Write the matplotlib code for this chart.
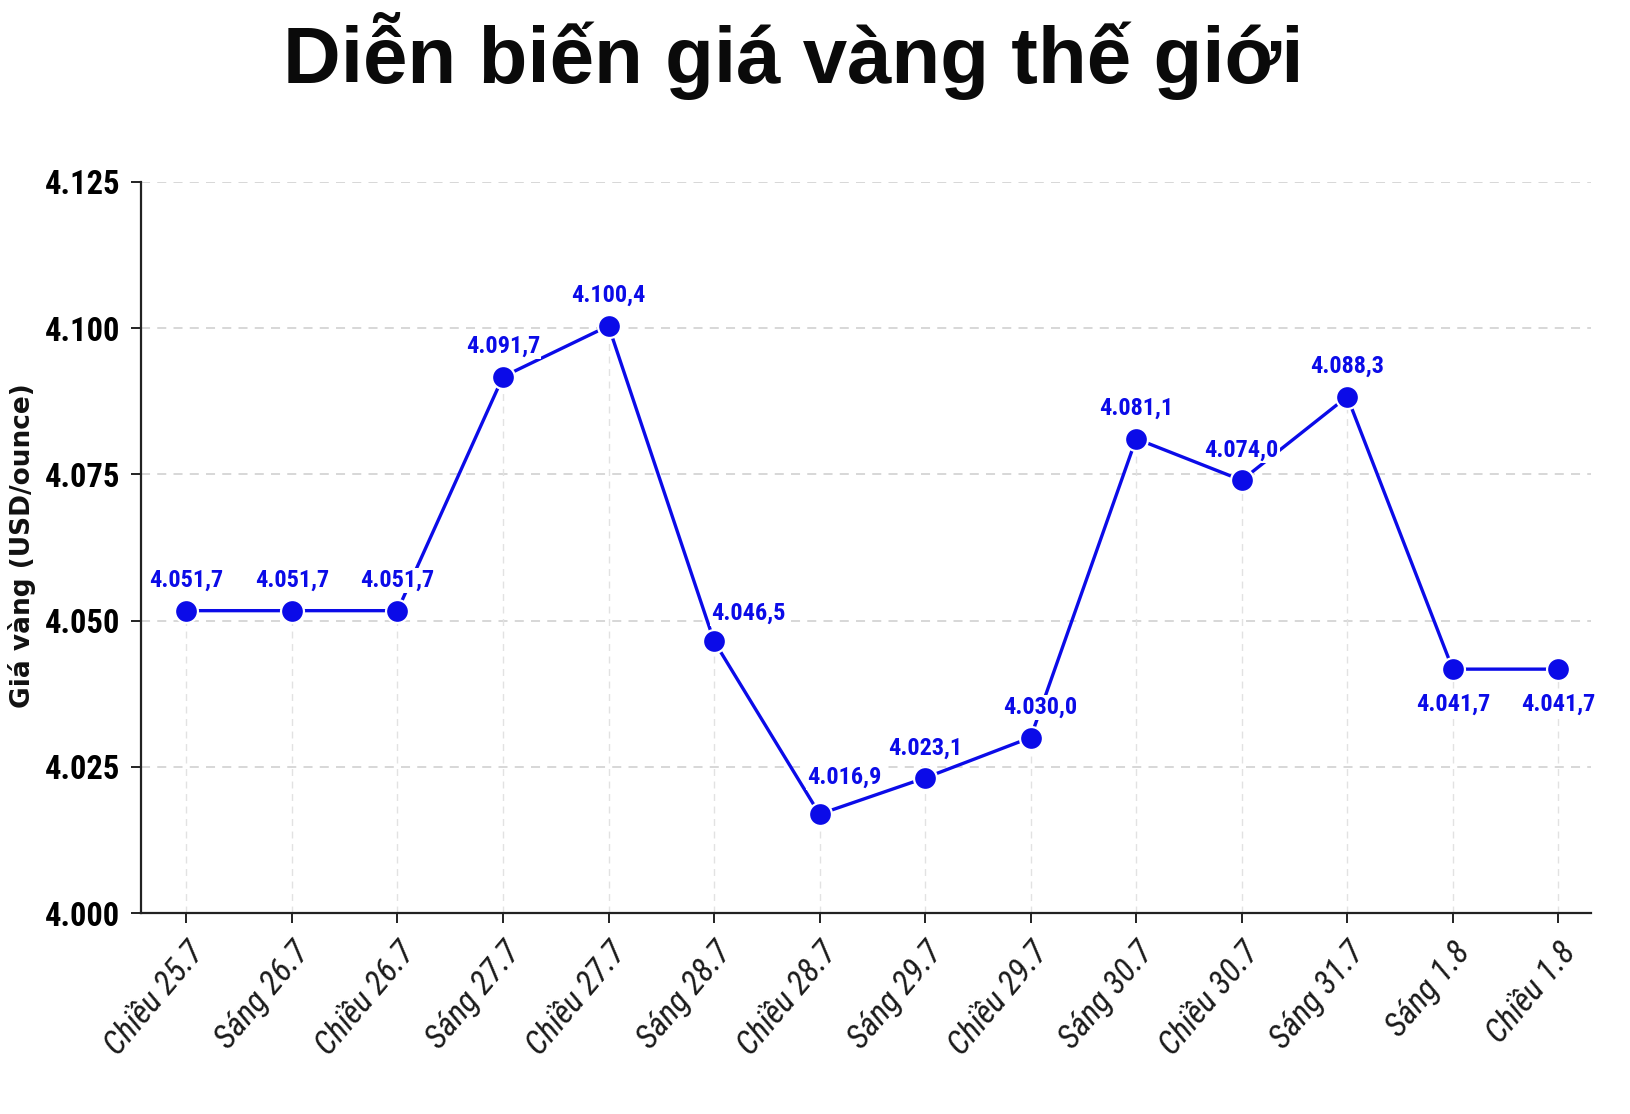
import matplotlib
matplotlib.use("Agg")
import matplotlib.pyplot as plt

# ---- data ----
categories = ["Chiều 25.7", "Sáng 26.7", "Chiều 26.7", "Sáng 27.7", "Chiều 27.7",
              "Sáng 28.7", "Chiều 28.7", "Sáng 29.7", "Chiều 29.7", "Sáng 30.7",
              "Chiều 30.7", "Sáng 31.7", "Sáng 1.8", "Chiều 1.8"]
prices = [4051.7, 4051.7, 4051.7, 4091.7, 4100.4, 4046.5, 4016.9,
          4023.1, 4030.0, 4081.1, 4074.0, 4088.3, 4041.7, 4041.7]
y_ticks = [4000, 4025, 4050, 4075, 4100, 4125]

title = "Diễn biến giá vàng thế giới"
y_label = "Giá vàng (USD/ounce)"


def vn(v, dec):
    s = f"{v:,.{dec}f}"
    return s.replace(",", "#").replace(".", ",").replace("#", ".")


BLUE = "#0b0be8"
COND = "Roboto Condensed"

fig = plt.figure(figsize=(16.3, 11.14), dpi=100)
ax = fig.add_axes([141 / 1630, 1 - 913 / 1114, (1591 - 141) / 1630, (913 - 182) / 1114])

x = list(range(len(categories)))

# horizontal grid
for t in y_ticks:
    ax.axhline(t, color="#d4d4d4", lw=1.3, ls=(0, (5, 4)), zorder=0)
# vertical drop lines
ax.vlines(x, y_ticks[0], prices, colors="#e2e2e2", lw=1.0, linestyles=(0, (5, 4)), zorder=0)

ax.plot(x, prices, color=BLUE, lw=2.4, marker="o", ms=16.5, mfc=BLUE,
        mec="white", mew=1.6, zorder=3, clip_on=False)

# data labels: (kind, dx, dy) in points
special = {5: ("right", -2, 15), 6: ("shift", 18, 22), 8: ("shift", 7, 17),
           12: ("below", 0, -17), 13: ("below", 0, -17)}
for i, (xi, v) in enumerate(zip(x, prices)):
    kind, dx, dy = special.get(i, ("above", 0, 17))
    if kind == "below":
        ha, va = "center", "top"
    elif kind == "right":
        ha, va = "left", "baseline"
    else:
        ha, va = "center", "baseline"
    ax.annotate(vn(v, 1), (xi, v), xytext=(dx, dy), textcoords="offset points",
                ha=ha, va=va, color=BLUE, fontsize=17.5, fontweight="bold",
                family=COND, zorder=5,
                bbox=dict(boxstyle="square,pad=0.05", fc="white", ec="none"))

ax.set_xlim(-0.43, 13.31)
ax.set_ylim(y_ticks[0], y_ticks[-1])
ax.set_yticks(y_ticks)
ax.set_yticklabels([vn(t, 0) for t in y_ticks], family=COND, fontweight="bold", fontsize=23.5)
ax.set_xticks(x)
ax.set_xticklabels(categories, rotation=50, ha="right", rotation_mode="anchor",
                   family=COND, style="italic", fontsize=24, color="#1a1a1a")

for s in ["top", "right"]:
    ax.spines[s].set_visible(False)
for s in ["left", "bottom"]:
    ax.spines[s].set_linewidth(1.6)
    ax.spines[s].set_color("#222222")
ax.tick_params(axis="both", direction="out", length=7, width=1.4, color="#222222")
ax.tick_params(axis="y", pad=8)
ax.tick_params(axis="x", pad=10)

fig.text(793 / 1630, 1 - 83 / 1114, title, ha="center", va="baseline",
         fontsize=57.5, fontweight="bold", family="Liberation Sans", color="#0a0a0a")
fig.text(22 / 1630, 1 - 546 / 1114, y_label, rotation=90, ha="center", va="center",
         fontsize=19, fontweight="bold", family="DejaVu Sans", color="#111111")

fig.savefig("out.png", dpi=100, facecolor="white")
